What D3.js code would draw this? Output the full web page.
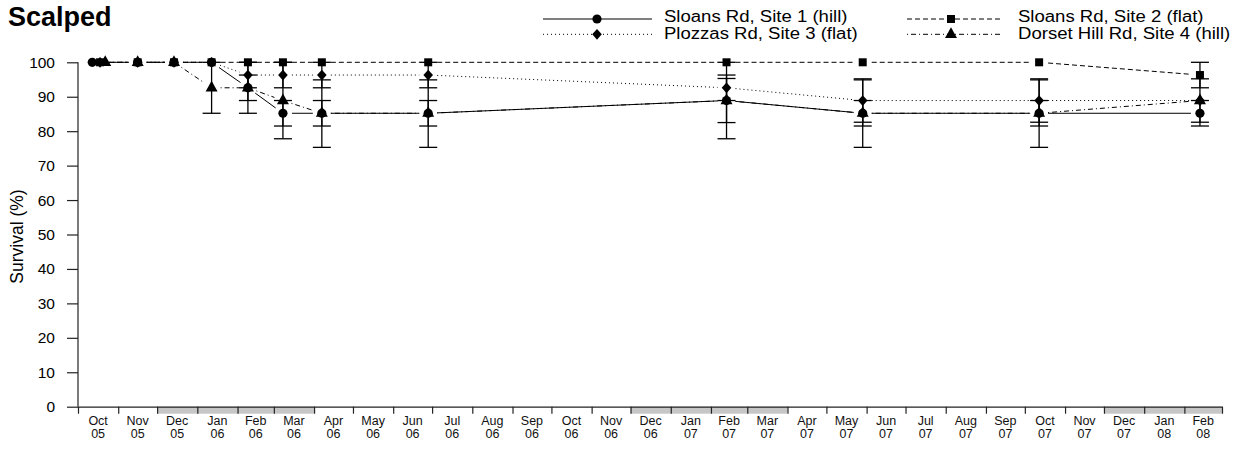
<!DOCTYPE html>
<html><head><meta charset="utf-8">
<script src="https://cdn.jsdelivr.net/npm/d3@7"></script>
<style>
html,body{margin:0;padding:0;background:#fff;}
svg{display:block;font-family:"Liberation Sans",Arial,Helvetica,sans-serif;}
</style></head>
<body><svg id="c" width="1239" height="451"></svg>
<script>
// ---- data ----
const title = "Scalped";
const yTicks = [0,10,20,30,40,50,60,70,80,90,100];
const xStart = "2005-10-01", xEnd = "2008-03-01";
const shaded = [["2005-12-01","2006-04-01"],["2006-12-01","2007-04-01"],["2007-12-01","2008-03-01"]];
const sampleDates = ["2005-10-12","2005-11-16","2005-12-14","2006-01-12","2006-02-09","2006-03-08","2006-04-07","2006-06-28","2007-02-13","2007-05-29","2007-10-12","2008-02-13"];
const firstVisit = ["2005-10-12","2005-10-18","2005-10-18","2005-10-22"];
const siteNames = ["Sloans Rd, Site 1 (hill)","Sloans Rd, Site 2 (flat)","Plozzas Rd, Site 3 (flat)","Dorset Hill Rd, Site 4 (hill)"];
const site1 = [100,100,100,100,92.6,85.2,85.2,85.2,88.9,85.2,85.2,85.2];
const site1Lo = [100,100,100,100,88.9,81.5,81.5,81.5,82.5,81.5,81.5,81.5];
const site1Hi = [100,100,100,100,96.3,88.9,88.9,88.9,95.3,88.9,88.9,88.9];
const site2 = [100,100,100,100,100,100,100,100,100,100,100,96.3];
const site2Lo = [100,100,100,100,100,100,100,100,100,100,100,92.6];
const site2Hi = [100,100,100,100,100,100,100,100,100,100,100,100];
const site3 = [100,100,100,100,96.3,96.3,96.3,96.3,92.6,88.9,88.9,88.9];
const site3Lo = [100,100,100,100,92.6,92.6,92.6,92.6,88.9,82.6,82.6,88.9];
const site3Hi = [100,100,100,100,100,100,100,100,96.3,95.2,95.2,88.9];
const site4 = [100,100,100,92.6,92.6,88.9,85.2,85.2,88.9,85.2,85.2,88.9];
const site4Lo = [100,100,100,85.2,85.2,77.8,75.3,75.3,77.8,75.3,75.3,82.6];
const site4Hi = [100,100,100,100,100,100,94.9,94.9,100,94.9,94.9,95.2];

// ---- setup ----
const parse = d3.utcParse("%Y-%m-%d");
const svg = d3.select("#c");
const x = d3.scaleUtc().domain([parse(xStart), parse(xEnd)]).range([78, 1222]);
const y = d3.scaleLinear().domain([0,100]).range([406.7, 62.3]);

const vals = [site1,site2,site3,site4], los=[site1Lo,site2Lo,site3Lo,site4Lo], his=[site1Hi,site2Hi,site3Hi,site4Hi];
const dashes = [null,"5,3","1,3","1,3,5,3"];
const shapes = ["circle","square","diamond","triangle"];
const series = vals.map((v,s)=>v.map((val,i)=>({
  date: parse(i===0?firstVisit[s]:sampleDates[i]), v: val, lo: los[s][i], hi: his[s][i]})));

function marker(sel, shape){
  if(shape==="circle") return sel.append("circle").attr("r",4.6);
  if(shape==="square") return sel.append("rect").attr("x",-4).attr("y",-4).attr("width",8).attr("height",8);
  if(shape==="diamond") return sel.append("path").attr("d","M0,-5.4L4.8,0L0,5.4L-4.8,0Z");
  return sel.append("path").attr("d","M0,-7L6,3.6L-6,3.6Z");
}

// title
svg.append("text").attr("x",8).attr("y",25.5).attr("font-size",27).attr("font-weight","bold").text(title);

// shaded seasons below axis
svg.append("g").selectAll("rect").data(shaded).join("rect")
  .attr("x",d=>x(parse(d[0]))).attr("width",d=>x(parse(d[1]))-x(parse(d[0])))
  .attr("y",y(0)).attr("height",7).attr("fill","#c6c6c6");

// x axis
const months = d3.utcMonth.range(parse(xStart), d3.utcDay.offset(parse(xEnd),1));
const xAxis = svg.append("g").attr("transform",`translate(0,${y(0)})`)
  .call(d3.axisBottom(x).tickValues(months).tickFormat("").tickSize(7).tickSizeOuter(0));
xAxis.selectAll("line,path").attr("stroke","#222").attr("stroke-width",1.2);
const mids = months.slice(0,-1).map(m=>new Date((+m + +d3.utcMonth.offset(m,1))/2));
const fm = d3.utcFormat("%b"), fy = d3.utcFormat("%y");
const lab = svg.append("g").attr("font-size",12.5).attr("text-anchor","middle").attr("fill","#111");
lab.selectAll("text.m").data(mids).join("text").attr("class","m").attr("x",d=>x(d)).attr("y",425).text(d=>fm(d));
lab.selectAll("text.y").data(mids).join("text").attr("class","y").attr("x",d=>x(d)).attr("y",438).text(d=>fy(d));

// y axis
const yAxis = svg.append("g").attr("transform","translate(78,0)")
  .call(d3.axisLeft(y).tickValues(yTicks).tickSize(11).tickPadding(12).tickSizeOuter(0));
yAxis.selectAll("line,path").attr("stroke","#222").attr("stroke-width",1.2);
yAxis.selectAll("text").attr("font-size",15.5).attr("fill","#000").attr("font-family","Liberation Sans,Arial,sans-serif");
yAxis.select(".domain").remove();
svg.append("line").attr("x1",78).attr("x2",78).attr("y1",y(100)).attr("y2",y(0)).attr("stroke","#222").attr("stroke-width",1.2);

svg.append("text").attr("transform",`translate(23,${(y(0)+y(100))/2+2}) rotate(-90)`)
  .attr("text-anchor","middle").attr("font-size",17.5).text("Survival (%)");

// lines with gaps near points
const gap = 9;
series.forEach((pts,s)=>{
  const g = svg.append("g");
  for(let i=0;i<pts.length-1;i++){
    const x1=x(pts[i].date), y1=y(pts[i].v), x2=x(pts[i+1].date), y2=y(pts[i+1].v);
    const L=Math.hypot(x2-x1,y2-y1); if(L<=2*gap) continue;
    const ux=(x2-x1)/L, uy=(y2-y1)/L;
    g.append("line").attr("x1",x1+ux*gap).attr("y1",y1+uy*gap).attr("x2",x2-ux*gap).attr("y2",y2-uy*gap)
      .attr("stroke","#000").attr("stroke-width",1).attr("stroke-dasharray",dashes[s]);
  }
});
// error bars
series.forEach(pts=>{
  const g = svg.append("g").attr("stroke","#000").attr("stroke-width",1.3);
  pts.filter(p=>p.hi-p.lo>0.01).forEach(p=>{
    const cx=x(p.date);
    g.append("line").attr("x1",cx).attr("x2",cx).attr("y1",y(p.lo)).attr("y2",y(p.hi));
    g.append("line").attr("x1",cx-9).attr("x2",cx+9).attr("y1",y(p.lo)).attr("y2",y(p.lo));
    g.append("line").attr("x1",cx-9).attr("x2",cx+9).attr("y1",y(p.hi)).attr("y2",y(p.hi));
  });
});
// markers
series.forEach((pts,s)=>{
  pts.forEach(p=>{
    const g = svg.append("g").attr("transform",`translate(${x(p.date)},${y(p.v)})`).attr("fill","#000");
    marker(g, shapes[s]);
  });
});

// legend
const leg = [{x1:543,x2:652,mx:597,tx:664,ly:19,ty:21.8},{x1:907,x2:1003,mx:951,tx:1018,ly:19,ty:21.8},
             {x1:543,x2:652,mx:597,tx:664,ly:34.3,ty:39.2},{x1:907,x2:1003,mx:951,tx:1018,ly:34.3,ty:39.2}];
siteNames.forEach((name,s)=>{
  const L=leg[s];
  svg.append("line").attr("x1",L.x1).attr("x2",L.x2).attr("y1",L.ly).attr("y2",L.ly)
    .attr("stroke","#000").attr("stroke-width",1).attr("stroke-dasharray",dashes[s]);
  const g=svg.append("g").attr("transform",`translate(${L.mx},${L.ly})`);
  marker(g, shapes[s]);
  svg.append("text").attr("transform",`translate(${L.tx},${L.ty}) scale(1.16,1)`).attr("font-size",16).text(name);
});
</script></body></html>
